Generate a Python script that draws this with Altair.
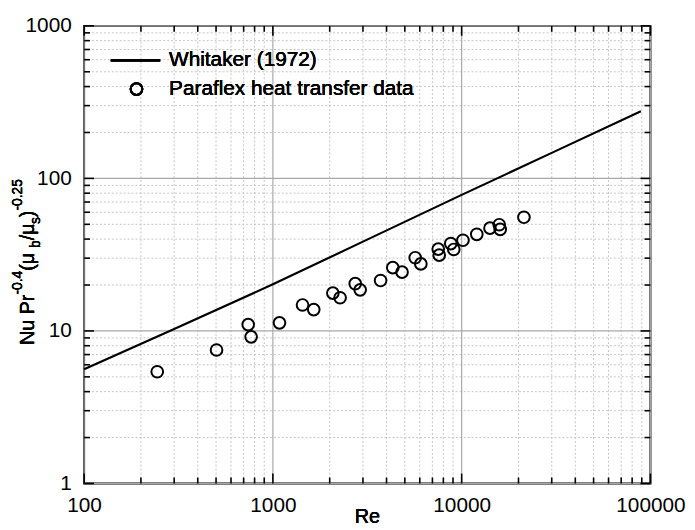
import altair as alt
import pandas as pd

# ---------------- data ----------------
data_re = [244, 503, 740, 767, 1084, 1436, 1646, 2078, 2270, 2730, 2900, 3720, 4317,
           4833, 5675, 6078, 7516, 7605, 8757, 9081, 10160, 12026, 14130, 15814, 16000, 21370]
data_nu = [5.4, 7.5, 11.0, 9.15, 11.3, 14.8, 13.8, 17.7, 16.5, 20.4, 18.6, 21.4, 26.0,
           24.3, 30.2, 27.5, 34.4, 31.4, 37.4, 34.2, 39.3, 43.0, 47.2, 49.7, 46.3, 55.6]

whitaker_re = [100, 300, 1000, 3000, 10000, 30000, 89000]
whitaker_nu = [5.6, 10.3, 20.2, 38.5, 78, 147, 276]

series_names = ["Whitaker (1972)", "Paraflex heat transfer data"]
x_tick_labels = [100, 1000, 10000, 100000]
y_tick_labels = [1, 10, 100, 1000]
x_title = "Re"
y_title_parts = ["Nu Pr", "-0.4", " (μ", "b", "/μ", "s", ")", "-0.25"]
y_title_kinds = ["main", "sup", "main", "sub", "main", "sub", "main", "sup"]

# ---------------- layout / style ----------------
W, H = 573, 463
FONT = "Arial"
MAIN_FS, SMALL_FS = 20, 14

xs = alt.Scale(type="log", domain=[100, 100000], nice=False)
ys = alt.Scale(type="log", domain=[1, 1000], nice=False)

ax_x = alt.Axis(values=x_tick_labels, format="d", title=None, ticks=False, domain=False,
                grid=False, labelFont=FONT, labelFontSize=21, labelFontWeight="normal",
                labelColor="black", labelPadding=11, labelFlush=False, labelOverlap=False)
ax_y = alt.Axis(values=y_tick_labels, format="d", title=None, ticks=False, domain=False,
                grid=False, labelFont=FONT, labelFontSize=21, labelFontWeight="normal",
                labelColor="black", labelPadding=13, labelFlush=False, labelOverlap=False)

minor_x = [m * d for d in x_tick_labels[:-1] for m in range(2, 10)]
minor_y = [m * d for d in y_tick_labels[:-1] for m in range(2, 10)]

df_pts = pd.DataFrame({"Re": data_re, "Nu": data_nu})
df_line = pd.DataFrame({"Re": whitaker_re, "Nu": whitaker_nu})
df_mx = pd.DataFrame({"v": minor_x})
df_my = pd.DataFrame({"v": minor_y})
df_Mx = pd.DataFrame({"v": x_tick_labels})
df_My = pd.DataFrame({"v": y_tick_labels})

layers = []

# grid
layers.append(alt.Chart(df_mx).mark_rule(color="#c4c4c4", strokeWidth=1, strokeDash=[2, 2]).encode(
    x=alt.X("v:Q", scale=xs, axis=ax_x), y=alt.value(0), y2=alt.value(H)))
layers.append(alt.Chart(df_my).mark_rule(color="#c4c4c4", strokeWidth=1, strokeDash=[2, 2]).encode(
    y=alt.Y("v:Q", scale=ys, axis=ax_y), x=alt.value(0), x2=alt.value(W)))
layers.append(alt.Chart(df_Mx).mark_rule(color="#a8a8a8", strokeWidth=1.2).encode(
    x=alt.X("v:Q", scale=xs, axis=ax_x), y=alt.value(0), y2=alt.value(H)))
layers.append(alt.Chart(df_My).mark_rule(color="#a8a8a8", strokeWidth=1.2).encode(
    y=alt.Y("v:Q", scale=ys, axis=ax_y), x=alt.value(0), x2=alt.value(W)))

# Whitaker correlation
layers.append(alt.Chart(df_line).mark_line(color="black", strokeWidth=2.2).encode(
    x=alt.X("Re:Q", scale=xs, axis=ax_x), y=alt.Y("Nu:Q", scale=ys, axis=ax_y)))

# data points
layers.append(alt.Chart(df_pts).mark_point(shape="circle", filled=False, color="black",
                                           size=140, strokeWidth=2, opacity=1).encode(
    x=alt.X("Re:Q", scale=xs, axis=ax_x), y=alt.Y("Nu:Q", scale=ys, axis=ax_y)))

# inward ticks on all four sides
TICK_COLOR = "black"
def xticks(df, y0, y1):
    return alt.Chart(df).mark_rule(color=TICK_COLOR, strokeWidth=1.6).encode(
        x=alt.X("v:Q", scale=xs, axis=ax_x), y=alt.value(y0), y2=alt.value(y1))

def yticks(df, x0, x1):
    return alt.Chart(df).mark_rule(color=TICK_COLOR, strokeWidth=1.6).encode(
        y=alt.Y("v:Q", scale=ys, axis=ax_y), x=alt.value(x0), x2=alt.value(x1))

layers += [xticks(df_Mx, H, H - 10), xticks(df_mx, H, H - 6),
           xticks(df_Mx, 0, 10), xticks(df_mx, 0, 6),
           yticks(df_My, 0, 10), yticks(df_my, 0, 6),
           yticks(df_My, W, W - 10), yticks(df_my, W, W - 6)]

# legend
layers.append(alt.Chart(df_Mx).mark_rule(color="black", strokeWidth=2.2).encode(
    x=alt.value(27), x2=alt.value(77), y=alt.value(35)))
layers.append(alt.Chart(df_Mx).mark_point(shape="circle", filled=False, color="black",
                                          size=140, strokeWidth=2, opacity=1).encode(
    x=alt.value(53), y=alt.value(64)))
for i, name in enumerate(series_names):
    layers.append(alt.Chart(df_Mx).mark_text(text=name, font=FONT, fontSize=21, fontWeight="normal",
                                             color="black", align="left", baseline="middle").encode(
        x=alt.value(86), y=alt.value(35 + 29 * i)))

# x title
layers.append(alt.Chart(df_Mx).mark_text(text=x_title, font=FONT, fontSize=20, fontWeight="normal",
                                         color="black", align="center", baseline="alphabetic").encode(
    x=alt.value(W / 2), y=alt.value(H + 40)))

# y title built from pieces (superscripts / subscripts), rotated
char_w = {"N": 0.722, "u": 0.556, " ": 0.278, "P": 0.667, "r": 0.333, "-": 0.333, "0": 0.556,
          ".": 0.278, "4": 0.556, "2": 0.556, "5": 0.556, "(": 0.333, ")": 0.333, "μ": 0.54,
          "b": 0.556, "/": 0.278, "s": 0.5}
pos = 346 - 23  # start (bottom) of title in plot coordinates
base_x = {"main": -51, "sup": -62.5, "sub": -45}
for txt, kind in zip(y_title_parts, y_title_kinds):
    fs = MAIN_FS if kind == "main" else SMALL_FS
    layers.append(alt.Chart(df_Mx).mark_text(text=txt, font=FONT, fontSize=fs, fontWeight="normal",
                                             color="black", align="left", baseline="alphabetic",
                                             angle=270).encode(
        x=alt.value(base_x[kind]), y=alt.value(pos)))
    pos -= sum(char_w.get(c, 0.556) for c in txt) * fs

chart = alt.layer(*layers).properties(
    width=W, height=H,
    padding={"left": 77, "top": 15, "right": 37, "bottom": 44},
    autosize=alt.AutoSizeParams(type="none"),
    background="white",
).configure_view(stroke="black", strokeWidth=2)

chart.save("out.html", embed_options={"renderer": "svg", "actions": False})
